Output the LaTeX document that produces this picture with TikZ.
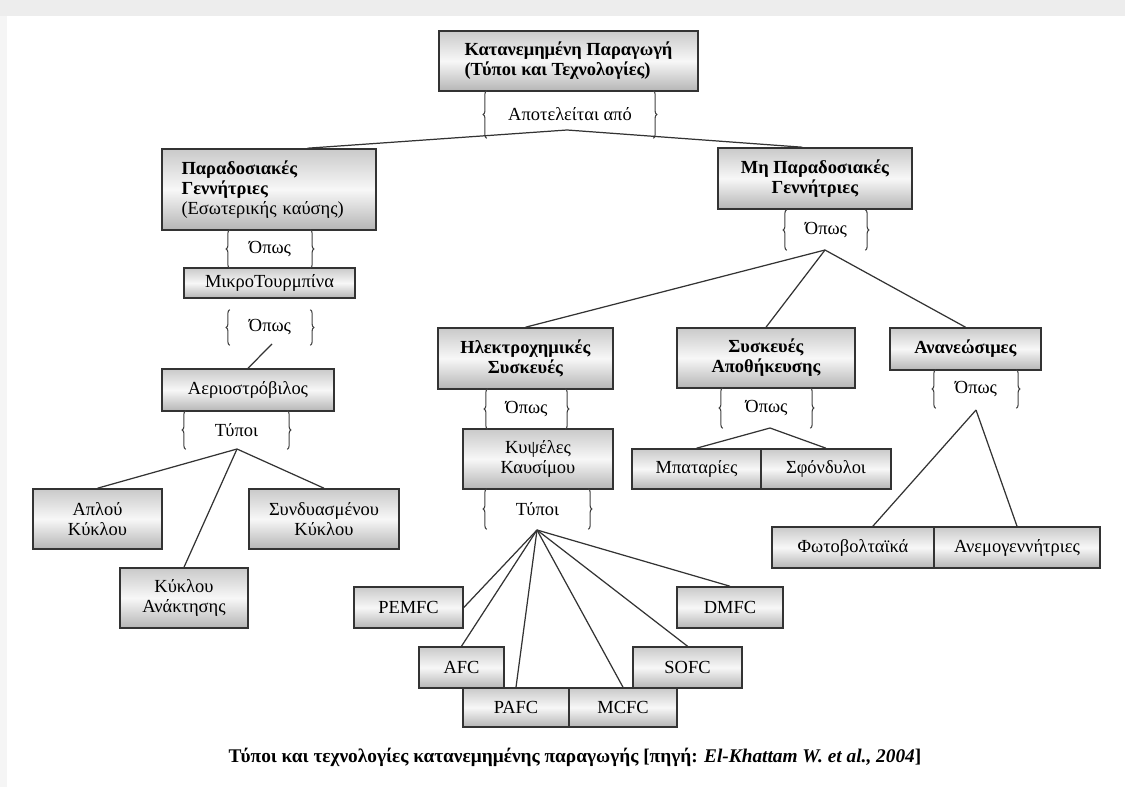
\documentclass[tikz,border=0pt]{standalone}
\usepackage{fontspec}
\setmainfont{Liberation Serif}
\usepackage{tikz}
\usetikzlibrary{decorations.pathreplacing,calc,positioning}

\begin{document}
\begin{tikzpicture}[x=0.02cm,y=-0.02cm,
    box/.style={draw=black!80, line width=0.9pt, top color=gray!42, bottom color=gray!58, middle color=gray!6,
        inner sep=2pt, align=center, font=\fontsize{10.5}{11.5}\selectfont},
    lbl/.style={inner sep=0pt, align=center, font=\fontsize{10.5}{11.5}\selectfont},
    brc/.style={decorate, decoration={brace,amplitude=2pt}, draw=black!75, line width=0.6pt},
    ln/.style={draw=black!80, line width=0.7pt}]
    \useasboundingbox (0,0) rectangle (1125,787);
    %Frame
    \fill[gray!14] (0,0) rectangle (1125,16);
    \fill[gray!8] (0,16) rectangle (7,787);
    %Boxes
    \node[box, minimum width=5.18cm, minimum height=1.2cm, align=left] (top) at (568.5,61) {\textbf{Κατανεμημένη Παραγωγή}\\\textbf{(Τύποι και Τεχνολογίες)}};
    \node[box, minimum width=4.28cm, minimum height=1.62cm, text width=3.5cm, align=left] (trad) at (269,189.5) {\textbf{Παραδοσιακές}\\\textbf{Γεννήτριες}\\(Εσωτερικής καύσης)};
    \node[box, minimum width=3.88cm, minimum height=1.22cm] (nontrad) at (815,178.5) {\textbf{Μη Παραδοσιακές}\\\textbf{Γεννήτριες}};
    \node[box, minimum width=3.42cm, minimum height=0.6cm] (micro) at (269.5,283) {ΜικροΤουρμπίνα};
    \node[box, minimum width=3.44cm, minimum height=0.84cm] (gasturb) at (248,390) {Αεριοστρόβιλος};
    \node[box, minimum width=2.58cm, minimum height=1.2cm] (simple) at (97.5,519) {Απλού\\Κύκλου};
    \node[box, minimum width=3.0cm, minimum height=1.2cm] (combined) at (324,519) {Συνδυασμένου\\Κύκλου};
    \node[box, minimum width=2.56cm, minimum height=1.2cm] (recov) at (184,598) {Κύκλου\\Ανάκτησης};
    \node[box, minimum width=3.5cm, minimum height=1.22cm] (electro) at (525.5,358.5) {\textbf{Ηλεκτροχημικές}\\\textbf{Συσκευές}};
    \node[box, minimum width=3.56cm, minimum height=1.2cm] (storage) at (766,358) {\textbf{Συσκευές}\\\textbf{Αποθήκευσης}};
    \node[box, minimum width=3.02cm, minimum height=0.84cm] (renew) at (965.5,349) {\textbf{Ανανεώσιμες}};
    \node[box, minimum width=3.0cm, minimum height=1.2cm] (fuelcell) at (538,459) {Κυψέλες\\Καυσίμου};
    \node[box, minimum width=2.58cm, minimum height=0.8cm] (battery) at (696.5,469) {Μπαταρίες};
    \node[box, minimum width=2.6cm, minimum height=0.8cm] (flywheel) at (826,469) {Σφόνδυλοι};
    \node[box, minimum width=3.24cm, minimum height=0.82cm] (pv) at (853,547.5) {Φωτοβολταϊκά};
    \node[box, minimum width=3.32cm, minimum height=0.82cm] (wind) at (1017,547.5) {Ανεμογεννήτριες};
    \node[box, minimum width=2.18cm, minimum height=0.82cm] (pemfc) at (408.5,607.5) {PEMFC};
    \node[box, minimum width=2.12cm, minimum height=0.82cm] (dmfc) at (730,607.5) {DMFC};
    \node[box, minimum width=1.7cm, minimum height=0.82cm] (afc) at (461.5,667.5) {AFC};
    \node[box, minimum width=2.18cm, minimum height=0.82cm] (sofc) at (687.5,667.5) {SOFC};
    \node[box, minimum width=2.12cm, minimum height=0.78cm] (pafc) at (516,707.5) {PAFC};
    \node[box, minimum width=2.16cm, minimum height=0.78cm] (mcfc) at (623,707.5) {MCFC};
    %Braces
    \node[lbl, minimum width=3.32cm, minimum height=0.94cm] (b0) at (570,114.5) {Αποτελείται από};
    \node[lbl, minimum width=1.6cm, minimum height=0.76cm] (b1) at (270,249) {Όπως};
    \node[lbl, minimum width=1.6cm, minimum height=0.7cm] (b2) at (270,327.5) {Όπως};
    \node[lbl, minimum width=2.02cm, minimum height=0.76cm] (b3) at (236.5,430) {Τύποι};
    \node[lbl, minimum width=1.56cm, minimum height=0.8cm] (b4) at (826,230) {Όπως};
    \node[lbl, minimum width=1.54cm, minimum height=0.8cm] (b5) at (526.5,409) {Όπως};
    \node[lbl, minimum width=2.02cm, minimum height=0.8cm] (b6) at (537.5,509) {Τύποι};
    \node[lbl, minimum width=1.74cm, minimum height=0.8cm] (b7) at (766.5,408) {Όπως};
    \node[lbl, minimum width=1.6cm, minimum height=0.76cm] (b8) at (976,389) {Όπως};
    \foreach \b in {b0,b1,b2,b3,b4,b5,b6,b7,b8}{
        \draw[brc] (\b.south west) -- (\b.north west);
        \draw[brc] (\b.north east) -- (\b.south east);
    }
    %Apex points
    \coordinate (a0) at (567,130);
    \coordinate (a2) at (272,344);
    \coordinate (a3) at (237,449);
    \coordinate (a4) at (825,250);
    \coordinate (a6) at (537,530);
    \coordinate (a7) at (770,428);
    \coordinate (a8) at (976,410);
    %Lines
    \draw[ln] (trad.47) -- (a0) -- (nontrad.112);
    \draw[ln] (a2) -- (gasturb.north);
    \draw[ln] (a3) -- (simple.north);
    \draw[ln] (a3) -- (combined.north);
    \draw[ln] (a3) -- (recov.north);
    \draw[ln] (a4) -- (electro.north);
    \draw[ln] (a4) -- (storage.north);
    \draw[ln] (a4) -- (renew.north);
    \draw[ln] (a7) -- (battery.north);
    \draw[ln] (a7) -- (flywheel.north);
    \draw[ln] (a8) -- (pv.47);
    \draw[ln] (a8) -- (wind.north);
    \draw[ln] (a6) -- (pemfc.east);
    \draw[ln] (a6) -- (afc.north);
    \draw[ln] (a6) -- (pafc.north);
    \draw[ln] (a6) -- (mcfc.north);
    \draw[ln] (a6) -- (sofc.north);
    \draw[ln] (a6) -- (dmfc.north);
    %Caption
    \node[font=\fontsize{11}{13}\selectfont\bfseries] (cap) at (575,757) {Τύποι και τεχνολογίες κατανεμημένης παραγωγής [πηγή: \textit{El-Khattam W. et al., 2004}]};
\end{tikzpicture}
\end{document}
